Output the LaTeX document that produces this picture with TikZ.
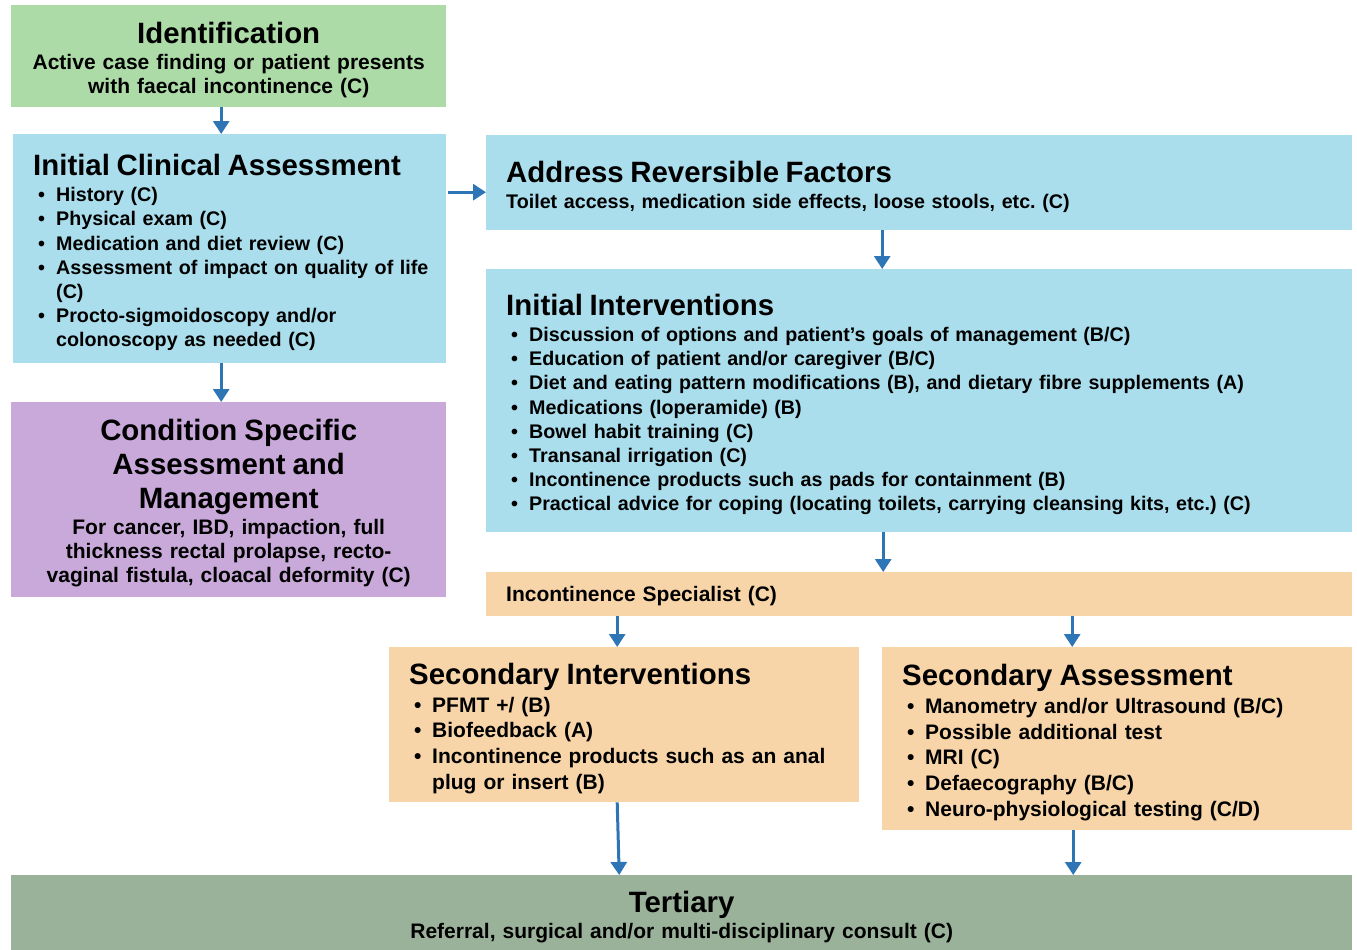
\documentclass[tikz,border=0pt]{standalone}
\usepackage{fontspec}
\setmainfont{Liberation Sans}
\usetikzlibrary{arrows.meta}
\definecolor{identgreen}{RGB}{173,219,168}
\definecolor{assessblue}{RGB}{170,222,236}
\definecolor{condpurple}{RGB}{200,169,217}
\definecolor{specorange}{RGB}{247,213,168}
\definecolor{tertgreen}{RGB}{155,178,154}
\definecolor{arrowblue}{RGB}{46,117,182}
\newcommand{\boxtitle}[1]{{\fontsize{29.4}{34}\selectfont\rule{0pt}{29pt}#1\par}\vspace{2pt}}
\newcommand{\lpad}{\leftskip=20pt\rightskip=0pt plus 1fil\relax}
\newcommand{\bitem}[1]{\par\noindent\hangindent=23pt\hangafter=1\hspace*{5pt}\makebox[18pt][l]{\textbullet}#1}
\tikzset{
  stepbox/.style={anchor=north west, inner xsep=0pt, inner ysep=0pt, align=left,
    font=\bfseries\frenchspacing\fontsize{21}{24}\selectfont},
  smallbody/.style={font=\bfseries\frenchspacing\fontsize{19.7}{24.2}\selectfont},
  widebody/.style={font=\bfseries\frenchspacing\fontsize{21}{25.7}\selectfont},
  flow/.style={-{Triangle[width=16pt,length=13pt]}, line width=3pt, draw=arrowblue}
}
\begin{document}
\begin{tikzpicture}[x=1pt,y=-1pt]
      \useasboundingbox (0,0) rectangle (1357,950);
      \node[stepbox, fill=identgreen, text width=435pt, minimum height=102pt, align=center] (ident) at (11,5)
        {\boxtitle{Identification}Active case finding or patient presents\\with faecal incontinence (C)};
      \node[stepbox, smallbody, fill=assessblue, text width=433pt, minimum height=229pt] (ica) at (13,134)
        {\lpad\boxtitle{Initial Clinical Assessment}%
         \bitem{History (C)}%
         \bitem{Physical exam (C)}%
         \bitem{Medication and diet review (C)}%
         \bitem{Assessment of impact on quality of life\newline (C)}%
         \bitem{Procto-sigmoidoscopy and/or\newline colonoscopy as needed (C)}\par};
      \node[stepbox, fill=condpurple, text width=435pt, minimum height=195pt, align=center] (cond) at (11,402)
        {\boxtitle{Condition Specific\\Assessment and\\Management}%
         For cancer, IBD, impaction, full\\thickness rectal prolapse, recto-\\vaginal fistula, cloacal deformity (C)};
      \node[stepbox, smallbody, fill=assessblue, text width=866pt, minimum height=95pt] (arf) at (486,135)
        {\lpad\boxtitle{Address Reversible Factors}Toilet access, medication side effects, loose stools, etc. (C)\par};
      \node[stepbox, smallbody, fill=assessblue, text width=866pt, minimum height=263pt] (initint) at (486,269)
        {\lpad\boxtitle{Initial Interventions}%
         \bitem{Discussion of options and patient’s goals of management (B/C)}%
         \bitem{Education of patient and/or caregiver (B/C)}%
         \bitem{Diet and eating pattern modifications (B), and dietary fibre supplements (A)}%
         \bitem{Medications (loperamide) (B)}%
         \bitem{Bowel habit training (C)}%
         \bitem{Transanal irrigation (C)}%
         \bitem{Incontinence products such as pads for containment (B)}%
         \bitem{Practical advice for coping (locating toilets, carrying cleansing kits, etc.) (C)}\par};
      \node[stepbox, fill=specorange, text width=866pt, minimum height=44pt] (spec) at (486,572)
        {\lpad\rule{0pt}{19pt}Incontinence Specialist (C)\par};
      \node[stepbox, widebody, fill=specorange, text width=470pt, minimum height=155pt] (secint) at (389,647)
        {\lpad\boxtitle{Secondary Interventions}%
         \bitem{PFMT +/ (B)}%
         \bitem{Biofeedback (A)}%
         \bitem{Incontinence products such as an anal\newline plug or insert (B)}\par};
      \node[stepbox, widebody, fill=specorange, text width=470pt, minimum height=183pt] (secass) at (882,647)
        {\lpad\boxtitle{Secondary Assessment}%
         \bitem{Manometry and/or Ultrasound (B/C)}%
         \bitem{Possible additional test}%
         \bitem{MRI (C)}%
         \bitem{Defaecography (B/C)}%
         \bitem{Neuro-physiological testing (C/D)}\par};
      \node[stepbox, fill=tertgreen, text width=1341pt, minimum height=77pt, align=center] (tert) at (11,875)
        {\boxtitle{Tertiary}Referral, surgical and/or multi-disciplinary consult (C)};
      \begin{scope}[flow]
        \draw ([xshift=-7.5pt]ident.south) to ([xshift=-8.5pt]ica.north);
        \draw ([xshift=-8.5pt]ica.south) to ([xshift=-7.5pt]cond.north);
        \draw[shorten <=2pt] ([yshift=56.5pt]ica.east) to ([yshift=-9.5pt]arf.west);
        \draw ([xshift=-37pt]arf.south) to ([xshift=-37pt]initint.north);
        \draw ([xshift=-36pt]initint.south) to ([xshift=-36pt]spec.north);
        \draw ([xshift=-302pt]spec.south) to ([xshift=-7pt]secint.north);
        \draw ([xshift=153pt]spec.south) to ([xshift=-45pt]secass.north);
        \draw ([xshift=-7pt]secint.south) to ([xshift=-62.5pt]tert.north);
        \draw ([xshift=-44pt]secass.south) to ([xshift=391.5pt]tert.north);
      \end{scope}
    \end{tikzpicture}
\end{document}
